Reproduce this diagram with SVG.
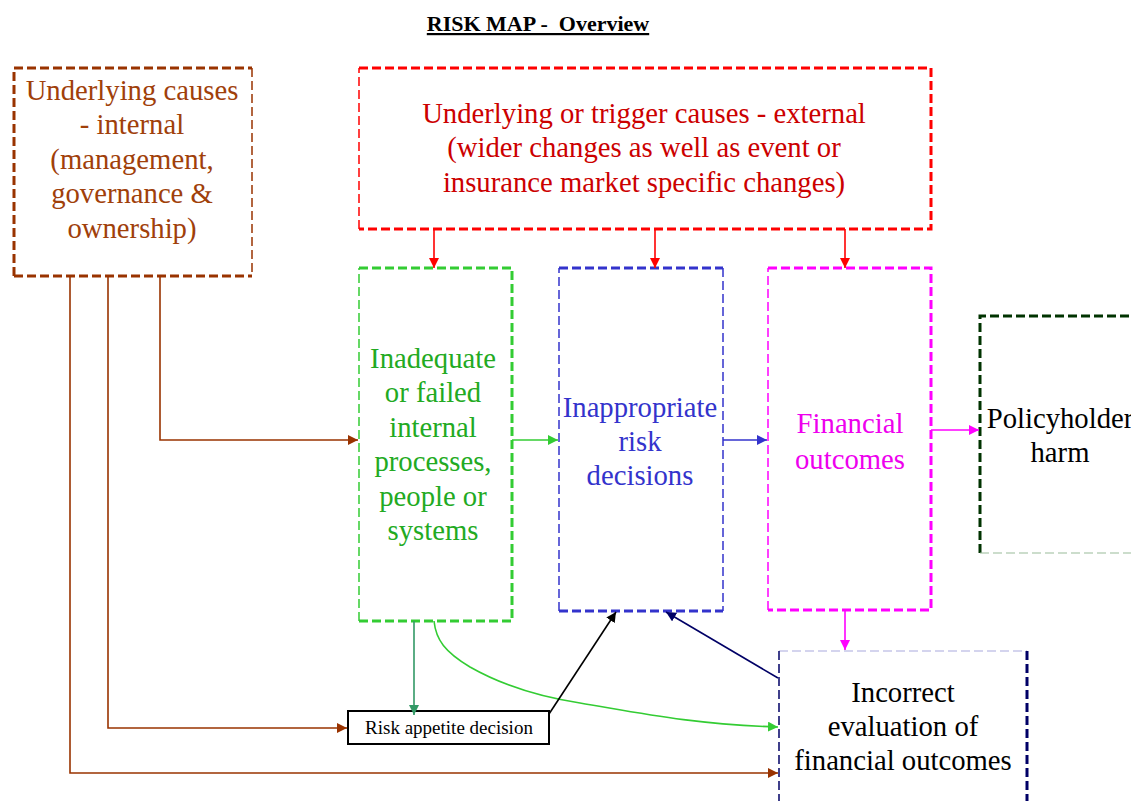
<svg xmlns="http://www.w3.org/2000/svg" width="1131" height="801" viewBox="0 0 1131 801">
<defs>
<style>
text{font-family:"Liberation Serif","Times New Roman",serif;font-size:28.7px;text-anchor:middle}
.d{fill:none;stroke-dasharray:9,4}
.c{fill:none;stroke-width:1.6}
</style>
<marker id="aBr" viewBox="0 0 10 10" refX="10" refY="5" markerWidth="10" markerHeight="10" markerUnits="userSpaceOnUse" orient="auto"><path d="M0,0L10,5L0,10z" fill="#993300"/></marker>
<marker id="aR" viewBox="0 0 10 10" refX="10" refY="5" markerWidth="10" markerHeight="10" markerUnits="userSpaceOnUse" orient="auto"><path d="M0,0L10,5L0,10z" fill="#FF0000"/></marker>
<marker id="aG" viewBox="0 0 10 10" refX="10" refY="5" markerWidth="10" markerHeight="10" markerUnits="userSpaceOnUse" orient="auto"><path d="M0,0L10,5L0,10z" fill="#33CC33"/></marker>
<marker id="aT" viewBox="0 0 10 10" refX="10" refY="5" markerWidth="10" markerHeight="10" markerUnits="userSpaceOnUse" orient="auto"><path d="M0,0L10,5L0,10z" fill="#339966"/></marker>
<marker id="aB" viewBox="0 0 10 10" refX="10" refY="5" markerWidth="10" markerHeight="10" markerUnits="userSpaceOnUse" orient="auto"><path d="M0,0L10,5L0,10z" fill="#3333CC"/></marker>
<marker id="aM" viewBox="0 0 10 10" refX="10" refY="5" markerWidth="10" markerHeight="10" markerUnits="userSpaceOnUse" orient="auto"><path d="M0,0L10,5L0,10z" fill="#FF00FF"/></marker>
<marker id="aK" viewBox="0 0 10 10" refX="10" refY="5" markerWidth="10" markerHeight="10" markerUnits="userSpaceOnUse" orient="auto"><path d="M0,0L10,5L0,10z" fill="#000000"/></marker>
<marker id="aN" viewBox="0 0 10 10" refX="10" refY="5" markerWidth="10" markerHeight="10" markerUnits="userSpaceOnUse" orient="auto"><path d="M0,0L10,5L0,10z" fill="#000066"/></marker>
</defs>
<rect width="1131" height="801" fill="#FFFFFF"/>

<g id="title">
<text x="538" y="31" xml:space="preserve" style="font-size:22px;font-weight:bold;text-decoration:underline">RISK MAP -  Overview</text>
</g>

<g id="internal-causes">
<path class="d" d="M14,276V68H252" stroke="#993300" stroke-width="3"/>
<path class="d" d="M252,68V276" stroke="#993300" stroke-width="1.5"/>
<path class="d" d="M14,276H252" stroke="#993300" stroke-width="3"/>
<g fill="#A0400A">
<text x="132" y="100">Underlying causes</text>
<text x="132" y="134">- internal</text>
<text x="132" y="169">(management,</text>
<text x="132" y="203">governance &amp;</text>
<text x="132" y="238">ownership)</text>
</g>
</g>

<g id="external-causes">
<path class="d" d="M359,229V68" stroke="#FF0000" stroke-width="1.5"/>
<path class="d" d="M359,68H931V229H359" stroke="#FF0000" stroke-width="3"/>
<g fill="#CC0000">
<text x="644" y="123">Underlying or trigger causes - external</text>
<text x="644" y="157">(wider changes as well as event or</text>
<text x="644" y="192">insurance market specific changes)</text>
</g>
</g>

<g id="processes">
<path class="d" d="M359,621V268" stroke="#33CC33" stroke-width="1.5"/>
<path class="d" d="M359,268H512V621H359" stroke="#33CC33" stroke-width="3"/>
<g fill="#22AA22">
<text x="433" y="368">Inadequate</text>
<text x="433" y="402">or failed</text>
<text x="433" y="437">internal</text>
<text x="433" y="471">processes,</text>
<text x="433" y="506">people or</text>
<text x="433" y="540">systems</text>
</g>
</g>

<g id="risk-decisions">
<path class="d" d="M559,611V268" stroke="#3333CC" stroke-width="1.5"/>
<path class="d" d="M723,268V611" stroke="#3333CC" stroke-width="1.5"/>
<path class="d" d="M559,268H723M559,611H723" stroke="#3333CC" stroke-width="3"/>
<g fill="#3333CC">
<text x="640" y="417">Inappropriate</text>
<text x="640" y="451">risk</text>
<text x="640" y="485">decisions</text>
</g>
</g>

<g id="financial-outcomes">
<path class="d" d="M768,610V268" stroke="#FF00FF" stroke-width="1.5"/>
<path class="d" d="M768,268H931V610H768" stroke="#FF00FF" stroke-width="3"/>
<g fill="#EE00EE">
<text x="850" y="433">Financial</text>
<text x="850" y="469">outcomes</text>
</g>
</g>

<g id="policyholder-harm">
<path class="d" d="M980,553V316H1131" stroke="#003300" stroke-width="3"/>
<path class="d" d="M980,553H1131" stroke="#99BB99" stroke-width="1.2"/>
<g fill="#000000">
<text x="1060" y="428">Policyholder</text>
<text x="1060" y="462">harm</text>
</g>
</g>

<g id="incorrect-evaluation">
<path class="d" d="M779,651H1027" stroke="#AAAADD" stroke-width="1.2"/>
<path class="d" d="M779,651V801" stroke="#000066" stroke-width="1.5"/>
<path class="d" d="M1027,651V801" stroke="#000066" stroke-width="3"/>
<g fill="#000000">
<text x="903" y="702">Incorrect</text>
<text x="903" y="736">evaluation of</text>
<text x="903" y="770">financial outcomes</text>
</g>
</g>

<g id="risk-appetite">
<rect x="348" y="711" width="201" height="33" fill="#FFFFFF" stroke="#000000" stroke-width="2"/>
<text x="449" y="734" style="font-size:19px">Risk appetite decision</text>
</g>

<g id="connectors">
<path class="c" d="M434,229V268" stroke="#FF0000" marker-end="url(#aR)"/>
<path class="c" d="M655,229V268" stroke="#FF0000" marker-end="url(#aR)"/>
<path class="c" d="M845,229V268" stroke="#FF0000" marker-end="url(#aR)"/>
<path class="c" d="M160,276V440H358" stroke="#993300" marker-end="url(#aBr)"/>
<path class="c" d="M108,276V728H347" stroke="#993300" marker-end="url(#aBr)"/>
<path class="c" d="M70,276V773H778" stroke="#993300" marker-end="url(#aBr)"/>
<path class="c" d="M512,440H558" stroke="#33CC33" marker-end="url(#aG)"/>
<path class="c" d="M723,440H767" stroke="#3333CC" marker-end="url(#aB)"/>
<path class="c" d="M931,430H979" stroke="#FF00FF" marker-end="url(#aM)"/>
<path class="c" d="M845,611V650" stroke="#FF00FF" marker-end="url(#aM)"/>
<path class="c" d="M414,621V715" stroke="#339966" marker-end="url(#aT)"/>
<path class="c" d="M434,621C436,640 445,652 470,667C500,684 540,697 580,703C640,713 690,724 778,727" stroke="#33CC33" marker-end="url(#aG)"/>
<path class="c" d="M549,714L616,612" stroke="#000000" marker-end="url(#aK)"/>
<path class="c" d="M778,678L666,612" stroke="#000066" marker-end="url(#aN)"/>
</g>
</svg>
